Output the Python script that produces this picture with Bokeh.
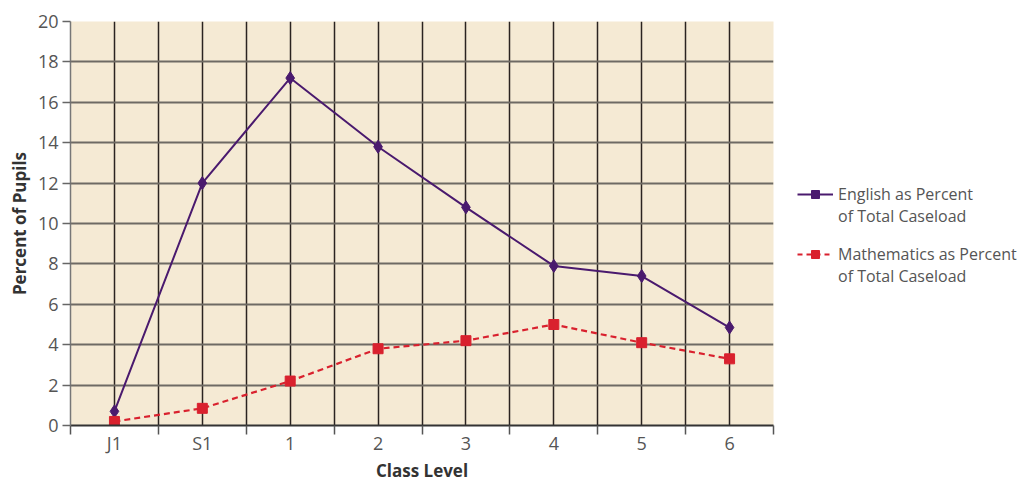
from bokeh.plotting import figure
from bokeh.layouts import row
from bokeh.models import FixedTicker, Legend, LegendItem, Range1d
from bokeh.embed import file_html
from bokeh.resources import INLINE

categories = ["J1", "S1", "1", "2", "3", "4", "5", "6"]
english = [0.7, 12.0, 17.2, 13.8, 10.8, 7.9, 7.4, 4.85]
maths = [0.2, 0.85, 2.2, 3.8, 4.2, 5.0, 4.1, 3.3]
y_ticks = [0, 2, 4, 6, 8, 10, 12, 14, 16, 18, 20]
english_label = ["English as Percent", "of Total Caseload"]
maths_label = ["Mathematics as Percent", "of Total Caseload"]

xs = list(range(len(categories)))

FONT = "Open Sans"
PURPLE = "#4a1a6e"
RED = "#d9212e"
H = 484

p = figure(width=788, height=H, output_backend="svg", toolbar_location=None,
           x_range=Range1d(-0.5, len(categories) - 0.5), y_range=Range1d(0, 20),
           min_border_left=70, min_border_right=15, min_border_top=21, min_border_bottom=50)
p.background_fill_color = "#f5ead4"
p.border_fill_color = "white"
p.outline_line_color = None

p.xaxis.ticker = FixedTicker(ticks=xs, minor_ticks=[i - 0.5 for i in range(len(categories) + 1)])
p.xaxis.major_label_overrides = {i: c for i, c in enumerate(categories)}
p.xaxis.major_tick_out = 0
p.xaxis.major_tick_in = 0
p.xaxis.minor_tick_out = 9
p.xaxis.minor_tick_in = 0
p.xaxis.minor_tick_line_color = "#555555"
p.xaxis.minor_tick_line_width = 1.5
p.xaxis.axis_line_color = "#333333"
p.xaxis.axis_line_width = 2
p.xaxis.axis_label = "Class Level"
p.xaxis.major_label_standoff = -4
p.xaxis.axis_label_standoff = 1

p.yaxis.ticker = FixedTicker(ticks=y_ticks, minor_ticks=[])
p.yaxis.major_tick_out = 8
p.yaxis.major_tick_in = 0
p.yaxis.major_tick_line_color = "#666666"
p.yaxis.major_tick_line_width = 1.5
p.yaxis.axis_line_color = "#777777"
p.yaxis.axis_line_width = 1.5
p.yaxis.axis_label = "Percent of Pupils"
p.yaxis.major_label_standoff = 4
p.yaxis.axis_label_standoff = 4

for ax in (p.xaxis, p.yaxis):
    ax.major_label_text_font = FONT
    ax.major_label_text_font_size = "18px"
    ax.major_label_text_color = "#555555"
    ax.major_label_text_font_style = "normal"
    ax.axis_label_text_font = FONT
    ax.axis_label_text_font_size = "17px"
    ax.axis_label_text_font_style = "bold"
    ax.axis_label_text_color = "#333333"

p.xgrid.grid_line_color = "#2a2320"
p.xgrid.grid_line_width = 1.5
p.xgrid.minor_grid_line_color = "#2a2320"
p.xgrid.minor_grid_line_width = 1.5
p.ygrid.grid_line_color = "#6e6a64"
p.ygrid.grid_line_width = 2

p.line(xs, english, line_color=PURPLE, line_width=2)
p.scatter(xs, english, marker="diamond", size=13, fill_color=PURPLE, line_color=PURPLE)
p.line(xs, maths, line_color=RED, line_width=2.2, line_dash="6 4")
p.scatter(xs, maths, marker="square", size=10, fill_color=RED, line_color=RED)

# Legend panel: a separate figure whose ranges keep its proxy glyphs out of view
lf = figure(width=230, height=H, output_backend="svg", toolbar_location=None,
            x_range=Range1d(100, 101), y_range=Range1d(100, 101),
            min_border=0, x_axis_type=None, y_axis_type=None)
lf.outline_line_color = None
lf.grid.visible = False
lf.background_fill_color = "white"
lg1 = lf.line(xs, english, line_color=PURPLE, line_width=2)
lgm1 = lf.scatter(xs, english, marker="square", size=9, fill_color=PURPLE, line_color=PURPLE)
lg2 = lf.line(xs, maths, line_color=RED, line_width=2, line_dash="5 4")
lgm2 = lf.scatter(xs, maths, marker="square", size=9, fill_color=RED, line_color=RED)
blank = lf.line(xs, maths, line_alpha=0)


def make_legend(lines, renderers, loc):
    lg = Legend(items=[LegendItem(label=lines[0], renderers=renderers),
                       LegendItem(label=lines[1], renderers=[blank])],
                location=loc)
    lg.background_fill_alpha = 0
    lg.border_line_color = None
    lg.label_text_font = FONT
    lg.label_text_font_size = "16px"
    lg.label_text_color = "#555555"
    lg.glyph_width = 36
    lg.glyph_height = 20
    lg.label_height = 20
    lg.label_standoff = 5
    lg.spacing = 0
    lg.padding = 0
    lg.margin = 0
    return lg


lf.add_layout(make_legend(english_label, [lg1, lgm1], (9, 198)), "center")
lf.add_layout(make_legend(maths_label, [lg2, lgm2], (9, 138)), "center")

layout = row(p, lf)
open("out.html", "w").write(file_html(layout, INLINE))
